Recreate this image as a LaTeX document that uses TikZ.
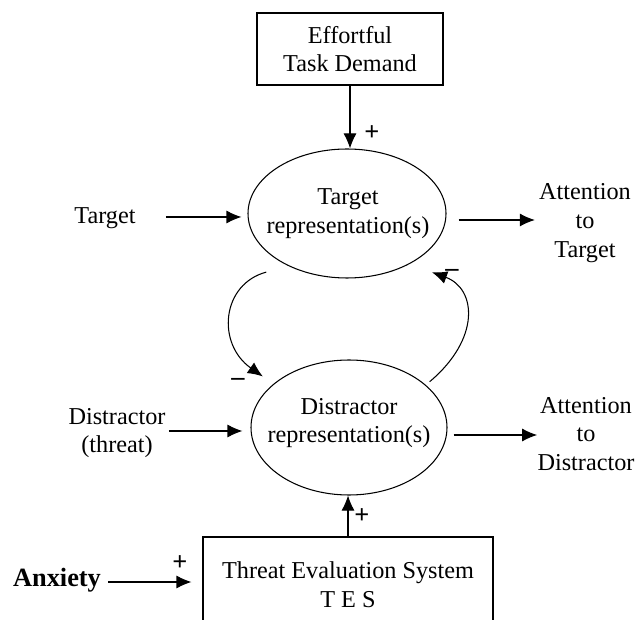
\documentclass[tikz,border=0pt]{standalone}
\usepackage{fontspec}
\setmainfont{Liberation Serif}
\usetikzlibrary{positioning, shapes.geometric, arrows.meta}
\tikzset{
MyBoxStyle/.style  ={every node/.style={draw, semithick, inner sep=0pt, align=center}},
MyEllipseStyle/.style ={every node/.style={ellipse, draw, semithick, inner sep=0pt}},
MyLabelStyle/.style ={every node/.style={inner sep=0pt, align=center}},
MyArrowStyle/.style ={semithick, -{Latex[length=3mm, width=2.6mm]}},
MySignStyle/.style ={every node/.style={inner sep=0pt, font=\fontsize{15}{15}\selectfont\bfseries}},
}

\begin{document}
\begin{tikzpicture}[font=\fontsize{13.8}{16.4}\selectfont]
\clip (0,0) rectangle (12.7,12.38);
%\draw [dash pattern=on 1pt off 1pt, step=1cm] (0,0) grid (12.7,12.38);
\begin{scope}[MyBoxStyle]  % 方框
\node [minimum width=3.72cm, minimum height=1.44cm] (TaskBox) at (7.0,11.4) {Effortful\\Task Demand};
\node [minimum width=5.8cm, minimum height=1.92cm] (TES) at (6.96,0.68) {Threat Evaluation System\\T E S};
\end{scope}

\begin{scope}[MyEllipseStyle]  % 椭圆
\node [minimum width=3.96cm, minimum height=2.58cm] (TargetRep) at (6.94,8.11) {};
\node [minimum width=3.92cm, minimum height=2.7cm] (DistRep) at (6.98,3.83) {};
\end{scope}

\begin{scope}[MyLabelStyle]  % 文字
\node (TargetText) at (6.96,8.1) {Target\\representation(s)};
\node (DistText) at (6.98,3.92) {Distractor\\representation(s)};
\node (TargetIn) at (2.1,8.02) {Target};
\node (DistIn) at (2.34,3.72) {Distractor\\(threat)};
\node (AttTarget) at (11.7,7.92) {Attention\\to\\Target};
\node (AttDist) at (11.72,3.70) {Attention\\to\\Distractor};
\node [font=\fontsize{15}{18}\selectfont\bfseries] (Anxiety) at (1.14,0.78) {Anxiety};
\end{scope}

\begin{scope}[MyArrowStyle]  % 箭头
\draw (TaskBox.south -| 7.0,0) -- (TargetRep.north -| 7.0,0);
\draw [shorten <=0.6cm, shorten >=0.12cm] (TargetIn.east |- 0,8.04) -- (TargetRep.west |- 0,8.04);
\draw [shorten <=0.24cm, shorten >=0.08cm] (TargetRep.east |- 0,7.98) -- (AttTarget.west |- 0,7.98);
\draw [shorten <=0.06cm, shorten >=0.16cm] (DistIn.east |- 0,3.76) -- (DistRep.west |- 0,3.76);
\draw [shorten <=0.12cm] (DistRep.east |- 0,3.68) -- (AttDist.west |- 0,3.68);
\draw (TES.north -| 6.96,0) -- (DistRep.south -| 6.96,0);
\draw [shorten <=0.14cm, shorten >=0.22cm] (Anxiety.east |- 0,0.74) -- (TES.west |- 0,0.74);
\draw [shorten <=0.46cm, shorten >=0.26cm] (TargetRep.222) to[out=195, in=145, looseness=1.5] (DistRep.150);
\draw [shorten <=0.1cm, shorten >=0.48cm] (DistRep.29) to[out=40, in=-20, looseness=1.5] (TargetRep.321);
\end{scope}

\begin{scope}[MySignStyle]  % 符号
\node (PlusTask) at (7.44,9.72) {+};
\node (PlusTES) at (7.24,2.06) {+};
\node (PlusAnx) at (3.6,1.12) {+};
\node (MinusL) at (4.76,4.74) {\textendash};
\node (MinusR) at (9.04,6.92) {\textendash};
\end{scope}
\end{tikzpicture}
\end{document}
